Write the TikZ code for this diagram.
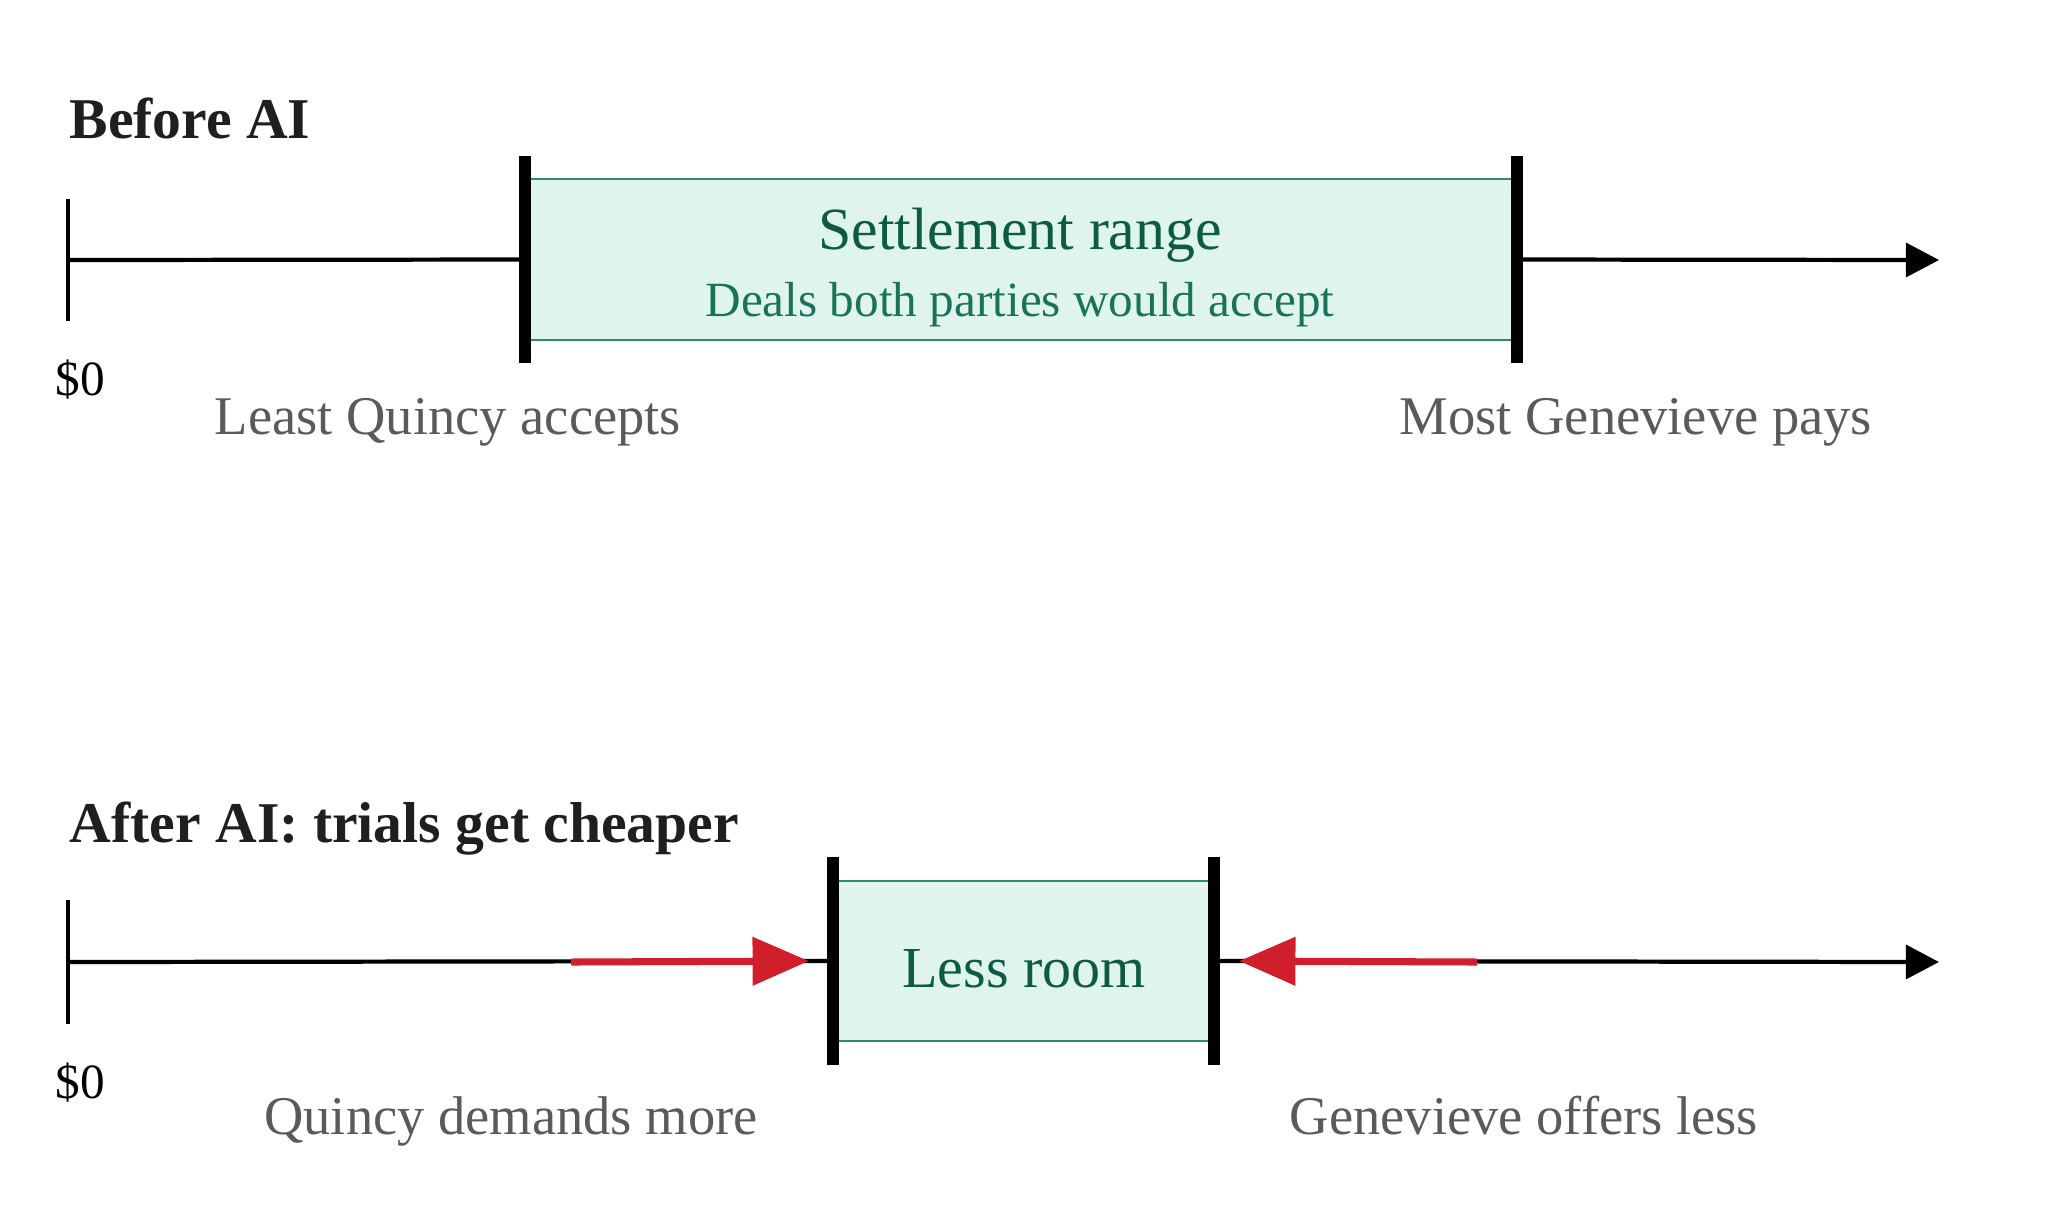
\documentclass[tikz,border=0pt]{standalone}
\usepackage{fontspec}
\setmainfont{Liberation Serif}
\usetikzlibrary{arrows.meta}
\definecolor{inkdark}{HTML}{1F1F1F}
\definecolor{labelgray}{HTML}{5A5A5A}
\definecolor{zonefill}{HTML}{DFF4EC}
\definecolor{zoneline}{HTML}{2F8A70}
\definecolor{zonetext}{HTML}{0D5A45}
\definecolor{zonesub}{HTML}{1A7358}
\definecolor{pushred}{HTML}{D01F2A}
\tikzset{%
  % Specifications for style of nodes:
          heading/.style = {anchor=base west, inner sep=0pt, text=inkdark,
                            font=\fontsize{16.4}{20}\selectfont\bfseries},
         dollars/.style = {anchor=base west, inner sep=0pt, text=black,
                            font=\fontsize{14}{17}\selectfont},
        endlabel/.style = {anchor=base, inner sep=0pt, text=labelgray,
                            font=\fontsize{15.5}{19}\selectfont},
            zone/.style = {rectangle, draw=zoneline, line width=0.6pt,
                            fill=zonefill, inner sep=0pt},
        zonetitle/.style = {anchor=base, inner sep=0pt, text=zonetext,
                            font=\fontsize{17}{20}\selectfont},
          zonesub/.style = {anchor=base, inner sep=0pt, text=zonesub,
                            font=\fontsize{14}{17}\selectfont},
  % Specifications for style of lines:
             axis/.style = {line width=1.2pt, black},
        axisarrow/.style = {axis, -{Triangle[length=9.4pt, width=9.6pt]}},
          zerotick/.style = {line width=1.1pt, black},
        limitbar/.style = {line width=3.4pt, black},
        pusharrow/.style = {line width=2pt, pushred,
                            -{Triangle[length=16pt, width=13.4pt]}},
}
\begin{document}
\begin{tikzpicture}[x=0.01cm, y=-0.01cm]
  \useasboundingbox (0,0) rectangle (2048,1229);

  % Before AI
  \node(titleA)   [heading] at (69,138)   {Before AI};
  \coordinate (zeroA) at (68,260);
  \coordinate (endA)  at (1939,260);
  \node(rangeA)   [zone, minimum width=9.9cm, minimum height=1.61cm] at (1021,259.5) {};
  \node(settle)   [zonetitle] at (1020,249) {Settlement range};
  \node(deals)    [zonesub]   at (1020,316) {Deals both parties would accept};

  \draw[axis]      (zeroA) -- (rangeA.west);
  \draw[axisarrow] (rangeA.east) -- (endA);
  \draw[zerotick]  ([yshift=0.61cm]zeroA) -- ([yshift=-0.61cm]zeroA);
  \draw[limitbar]  ([yshift=0.22cm]rangeA.north west) -- ([yshift=-0.22cm]rangeA.south west);
  \draw[limitbar]  ([yshift=0.22cm]rangeA.north east) -- ([yshift=-0.22cm]rangeA.south east);

  \node(zeroLabA)  [dollars]  at (55,395)   {\$0};
  \node(leastQ)    [endlabel] at (448,434)  {Least Quincy accepts};
  \node(mostG)     [endlabel] at (1636,434) {Most Genevieve pays};

  % After AI
  \node(titleB)   [heading] at (69,842)   {After AI: trials get cheaper};
  \coordinate (zeroB) at (68,962);
  \coordinate (endB)  at (1939,962);
  \coordinate (pushQ) at (571,962);
  \coordinate (pushG) at (1477,962);
  \node(rangeB)   [zone, minimum width=3.79cm, minimum height=1.6cm] at (1023.5,961) {};
  \node(room)     [zonetitle, font=\fontsize{16.5}{20}\selectfont] at (1024,987) {Less room};

  \draw[axis]      (zeroB) -- (rangeB.west);
  \draw[axisarrow] (rangeB.east) -- (endB);
  \draw[zerotick]  ([yshift=0.62cm]zeroB) -- ([yshift=-0.62cm]zeroB);
  \draw[pusharrow] (pushQ) -- ([xshift=-0.24cm]rangeB.west);
  \draw[pusharrow] (pushG) -- ([xshift=0.25cm]rangeB.east);
  \draw[limitbar]  ([yshift=0.23cm]rangeB.north west) -- ([yshift=-0.23cm]rangeB.south west);
  \draw[limitbar]  ([yshift=0.23cm]rangeB.north east) -- ([yshift=-0.23cm]rangeB.south east);

  \node(zeroLabB)  [dollars]  at (55,1098)  {\$0};
  \node(demandsQ)  [endlabel] at (511,1134) {Quincy demands more};
  \node(offersG)   [endlabel] at (1524,1134) {Genevieve offers less};

\end{tikzpicture}
\end{document}
